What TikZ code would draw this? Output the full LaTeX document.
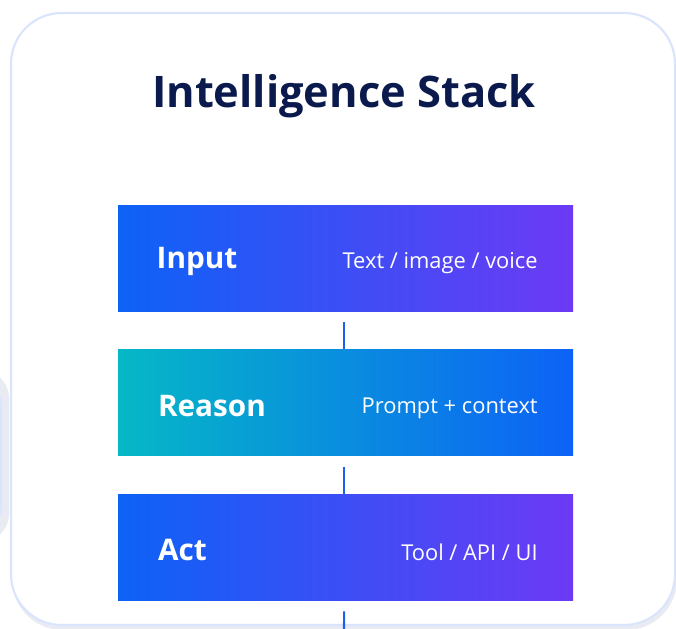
\documentclass[tikz,border=0pt]{standalone}
\usepackage{fontspec}
\setmainfont{Open Sans}
\usetikzlibrary{positioning}
\definecolor{cardline}{HTML}{DAE5FD}
\definecolor{haze}{HTML}{E9EBF2}
\definecolor{navy}{HTML}{0B1A4D}
\definecolor{blueA}{HTML}{0D62F6}
\definecolor{violetA}{HTML}{6C3AF5}
\definecolor{tealA}{HTML}{06B8C6}
\definecolor{linkblue}{HTML}{1A5FEE}
\tikzset{
  layer/.style={draw=none, minimum width=341.25pt, minimum height=79.5pt,
    inner sep=0pt, shading=axis, shading angle=90},
  mainlbl/.style={text=white, font=\fontsize{22.3}{26}\selectfont\bfseries,
    anchor=west, inner sep=0pt},
  sublbl/.style={text=white, font=\fontsize{16.4}{19}\selectfont,
    anchor=east, inner sep=0pt},
  link/.style={draw=linkblue, line width=1.6pt}
}
\begin{document}
\begin{tikzpicture}[x=0.75pt,y=-0.75pt]
\useasboundingbox (0,0) rectangle (676,629);
% neighbour card, cut off at the left
\fill[haze, rounded corners=20pt] (-200,371) rectangle (9,541);
\fill[white, draw=cardline, line width=1.2pt, rounded corners=16pt] (-200,383) rectangle (1,529);
% card
\fill[haze, rounded corners=38pt] (12,22) rectangle (677,630);
\draw[cardline, fill=white, line width=1.6pt, rounded corners=38pt] (11,13) rectangle (675,625);
\node[text=navy, font=\fontsize{32.6}{39}\selectfont\bfseries, inner sep=0pt] (title) at (344,96) {Intelligence Stack};

% layers
\node[layer, left color=blueA, right color=violetA] (input) at (345.5,258) {};
\node[layer, left color=tealA, right color=blueA, below=28.5pt of input] (reason) {};
\node[layer, left color=blueA, right color=violetA, below=28.5pt of reason] (act) {};

\node[mainlbl] (inputname) at ([xshift=29pt,yshift=-2.5pt]input.west) {Input};
\node[sublbl] (inputnote) at ([xshift=-26.5pt,yshift=-4pt]input.east) {Text / image / voice};
\node[mainlbl] (reasonname) at ([xshift=30pt,yshift=-2.5pt]reason.west) {Reason};
\node[sublbl] (reasonnote) at ([xshift=-26.5pt,yshift=-4pt]reason.east) {Prompt + context};
\node[mainlbl] (actname) at ([xshift=30pt,yshift=-2.5pt]act.west) {Act};
\node[sublbl] (actnote) at ([xshift=-26.5pt,yshift=-4pt]act.east) {Tool / API / UI};

% connectors
\coordinate (tail) at (344,629);
\draw[link] ([xshift=-1pt,yshift=-8.25pt]input.south) -- ([xshift=-1pt]reason.north);
\draw[link] ([xshift=-1pt,yshift=-8.25pt]reason.south) -- ([xshift=-1pt]act.north);
\draw[link] ([xshift=-1pt,yshift=-8.25pt]act.south) -- (tail);
\end{tikzpicture}
\end{document}
